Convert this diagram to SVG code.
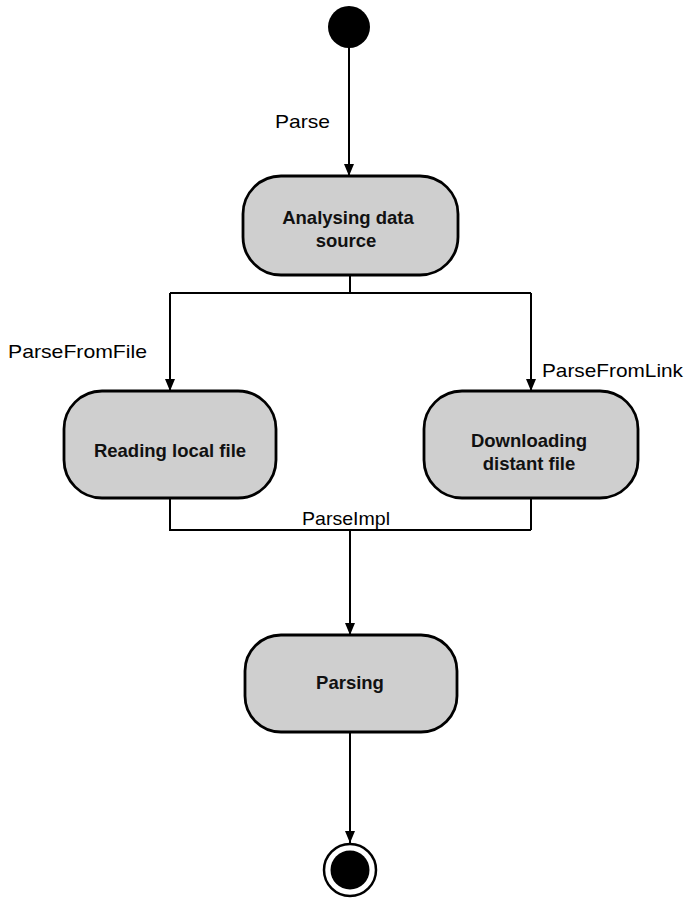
<svg xmlns="http://www.w3.org/2000/svg" width="687" height="899" viewBox="0 0 687 899">
  <style>
    .state { fill: #cfcfcf; stroke: #000; stroke-width: 2.8; }
    .conn { fill: none; stroke: #000; stroke-width: 2; }
    .label { font-family: "Liberation Sans", Arial, sans-serif; font-size: 19px; fill: #000; }
    .name { font-family: "Liberation Sans", Arial, sans-serif; font-size: 18.5px; font-weight: bold; fill: #111; text-anchor: middle; }
  </style>
  <defs>
    <marker id="arrow" viewBox="0 0 12 12" refX="12" refY="6" markerWidth="12" markerHeight="12" markerUnits="userSpaceOnUse" orient="auto">
      <path d="M0,1 L12,6 L0,11 Z" fill="#000"/>
    </marker>
  </defs>

  <rect width="687" height="899" fill="#fff"/>

  <!-- transitions -->
  <g id="connectors">
    <path class="conn" d="M349,48 V176" marker-end="url(#arrow)"/>
    <path class="conn" d="M350,275 V293 M170,293 H531 M170,293 V391" marker-end="url(#arrow)"/>
    <path class="conn" d="M531,293 V391" marker-end="url(#arrow)"/>
    <path class="conn" d="M170,498 V530 H531 M531,498 V530"/>
    <path class="conn" d="M350,530 V635" marker-end="url(#arrow)"/>
    <path class="conn" d="M350,732 V843" marker-end="url(#arrow)"/>
  </g>

  <!-- transition labels -->
  <g id="labels">
    <text class="label" x="275" y="128" textLength="55" lengthAdjust="spacingAndGlyphs">Parse</text>
    <text class="label" x="8" y="358" textLength="139" lengthAdjust="spacingAndGlyphs">ParseFromFile</text>
    <text class="label" x="542" y="377" textLength="141" lengthAdjust="spacingAndGlyphs">ParseFromLink</text>
    <text class="label" x="302" y="525" textLength="88" lengthAdjust="spacingAndGlyphs">ParseImpl</text>
  </g>

  <g id="start">
    <circle cx="349" cy="27" r="21" fill="#000"/>
  </g>

  <g id="analysing">
    <rect class="state" x="243" y="176" width="215" height="99" rx="38"/>
    <text class="name" x="348" y="224">Analysing data</text>
    <text class="name" x="346" y="247">source</text>
  </g>

  <g id="reading">
    <rect class="state" x="64" y="391" width="212" height="107" rx="38"/>
    <text class="name" x="170" y="457">Reading local file</text>
  </g>

  <g id="downloading">
    <rect class="state" x="424" y="391" width="214" height="107" rx="38"/>
    <text class="name" x="529" y="447">Downloading</text>
    <text class="name" x="529" y="470">distant file</text>
  </g>

  <g id="parsing">
    <rect class="state" x="245" y="635" width="212" height="97" rx="36"/>
    <text class="name" x="350" y="689">Parsing</text>
  </g>

  <g id="end">
    <circle cx="350" cy="870" r="26" fill="#fff" stroke="#000" stroke-width="2.5"/>
    <circle cx="350" cy="870" r="19.5" fill="#000"/>
  </g>
</svg>
